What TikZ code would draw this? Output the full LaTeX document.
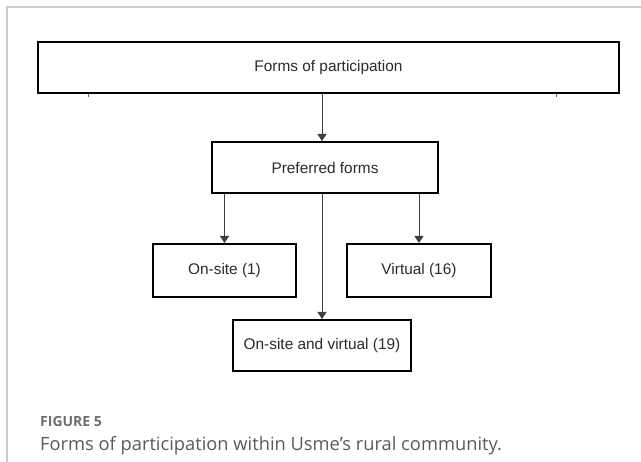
\documentclass[tikz,border=0pt]{standalone}
\usepackage{fontspec}
\setmainfont{Liberation Sans}
\newfontfamily\capfont{Open Sans}
\usepackage{tikz}
\usetikzlibrary{arrows.meta,calc}
\definecolor{boxtext}{HTML}{2B2B2B}
\definecolor{captext}{HTML}{5A5A5A}
\definecolor{capgray}{HTML}{6E6E6E}
\definecolor{framegray}{HTML}{CCCCCC}
\tikzset{
  formbox/.style={draw=black,line width=2pt,fill=white,text=boxtext,inner sep=0pt,
    font=\fontsize{15.4}{18}\selectfont},
  flowarrow/.style={draw=black!75,line width=0.9pt,-{Triangle[width=9pt,length=7pt]}}
}
\begin{document}
\begin{tikzpicture}[x=1pt,y=-1pt]
  \useasboundingbox (0,0) rectangle (641,462);
  \draw [framegray, line width=1.2pt] (7,462) -- (7,7) -- (641,7);
  \node (forms) at (328.5,67.5)[formbox,minimum width=581pt,minimum height=51pt]{Forms of participation};
  \node (pref) at (325,167.5)[formbox,minimum width=226pt,minimum height=51pt]{Preferred forms};
  \node (onsite) at (224.5,270.5)[formbox,minimum width=143pt,minimum height=53pt]{On-site (1)};
  \node (virtual) at (419,270.5)[formbox,minimum width=144pt,minimum height=53pt]{Virtual (16)};
  \node (both) at (322,345.5)[formbox,minimum width=178pt,minimum height=51pt]{On-site and virtual (19)};
  % small marks under the top box
  \draw [black!60, line width=1pt] ($(forms.south west)+(51,0)$) -- ++(0,3);
  \draw [black!60, line width=1pt] ($(forms.south east)+(-64,0)$) -- ++(0,3);
  \draw [flowarrow] (forms.south -| both.north) -- (pref.north -| both.north);
  \draw [flowarrow] (pref.south -| onsite.north) -- (onsite.north);
  \draw [flowarrow] (pref.south -| virtual.north) -- (virtual.north);
  \draw [flowarrow] (pref.south -| both.north) -- (both.north);
  \node (figlabel) at (40,427)[anchor=base west,inner sep=0pt,text=capgray,
    font=\capfont\fontsize{14}{16}\selectfont\bfseries]{FIGURE 5};
  \node (caption) at (40,451)[anchor=base west,inner sep=0pt,text=captext,
    font=\capfont\fontsize{18.3}{21}\selectfont]{Forms of participation within Usme’s rural community.};
\end{tikzpicture}
\end{document}
